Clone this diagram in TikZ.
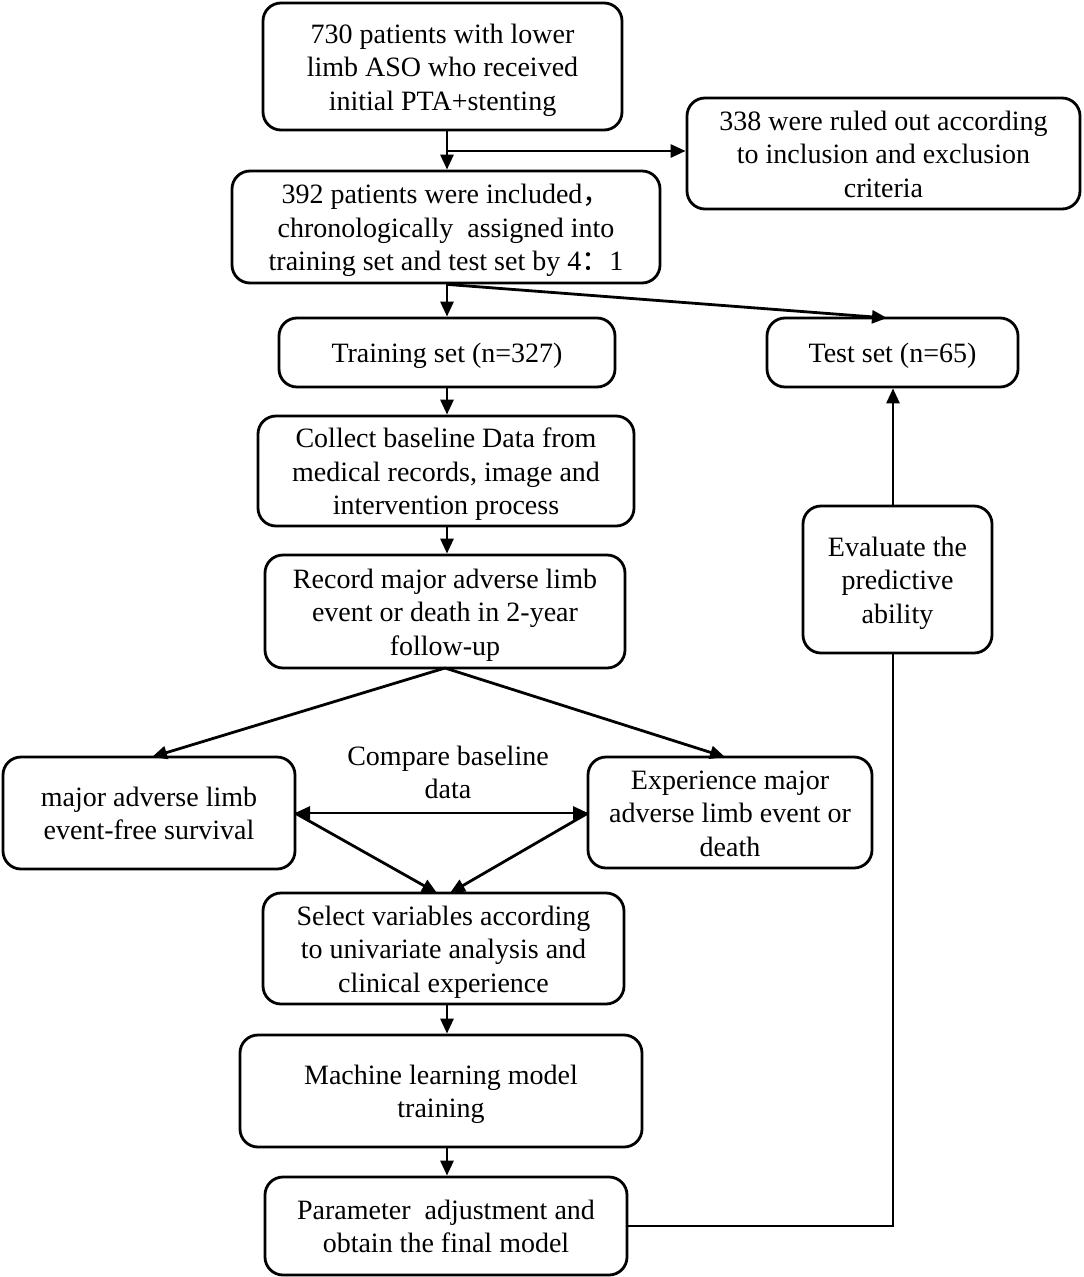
\documentclass[tikz,border=0pt]{standalone}
\usepackage{fontspec}
\setmainfont{Liberation Serif}
\newfontfamily\cjk{Noto Sans CJK SC}
\usetikzlibrary{arrows.meta,calc}
\newcommand{\sL}{\rule[-6.7pt]{0pt}{33.5pt}}
\begin{document}
\begin{tikzpicture}[x=1pt,y=-1pt,
  box/.style={draw,line width=2.8pt,rounded corners=18pt,align=center,inner sep=0pt,
    font=\fontsize{28}{33.5}\selectfont},
  lbl/.style={align=center,inner sep=0pt,font=\fontsize{28}{33.5}\selectfont},
  conn/.style={line width=2.8pt,-{Triangle[length=15pt,width=13pt]}},
  dconn/.style={line width=2.8pt,{Triangle[length=15pt,width=13pt]}-{Triangle[length=15pt,width=13pt]}},
  plain/.style={line width=2.8pt}]
\useasboundingbox (0,0) rectangle (1084,1277);
\newcommand{\bx}[6]{\node[box,minimum width={#4-#2},minimum height={#5-#3}] (#1) at ({(#2+#4)/2},{(#3+#5)/2}) {#6};}
\bx{b1}{263}{3}{622}{130}{\sL 730 patients with lower\\\sL limb ASO who received\\\sL initial PTA+stenting}
\bx{b2}{687}{98}{1080}{209}{\sL 338 were ruled out according\\\sL to inclusion and exclusion\\\sL criteria}
\bx{b3}{232}{171}{660}{283}{\sL 392 patients were included{\cjk ，}\\\sL chronologically\ \ assigned into\\\sL training set and test set by 4{\cjk ：}1}
\bx{tr}{279}{318}{615}{387}{\sL Training set (n=327)}
\bx{te}{767}{318}{1018}{387}{\sL Test set (n=65)}
\bx{co}{258}{416}{634}{526}{\sL Collect baseline Data from\\\sL medical records, image and\\\sL intervention process}
\bx{re}{265}{555}{625}{668}{\sL Record major adverse limb\\\sL event or death in 2-year\\\sL follow-up}
\bx{ev}{803}{506}{992}{653}{\sL Evaluate the\\\sL predictive\\\sL ability}
\bx{le}{3}{757}{295}{869}{\sL major adverse limb\\\sL event-free survival}
\bx{ri}{588}{757}{872}{868}{\sL Experience major\\\sL adverse limb event or\\\sL death}
\bx{se}{263}{893}{624}{1004}{\sL Select variables according\\\sL to univariate analysis and\\\sL clinical experience}
\bx{ma}{240}{1035}{642}{1147}{\sL Machine learning model\\\sL training}
\bx{pa}{265}{1177}{627}{1275}{\sL Parameter\ \ adjustment and\\\sL obtain the final model}
\node[lbl] (cmp) at (448,771.7) {\sL Compare baseline\\\sL data};
% connectors
\coordinate (x1) at (447,0);
\draw[conn] (b1.south -| x1) -- (b3.north -| x1);
\coordinate (j1) at (447,151);
\draw[conn] (j1) -- (j1 -| b2.west);
\coordinate (s3) at (b3.south -| x1);
\draw[conn] (s3) -- (tr.north -| x1);
\coordinate (tt) at (887,318);
\draw[conn] (s3) -- (tt);
\draw[conn] (tr.south -| x1) -- (co.north -| x1);
\draw[conn] (co.south -| x1) -- (re.north -| x1);
\coordinate (rb) at (445,668);
\coordinate (lt) at (152,757);
\coordinate (rt) at (725,757);
\draw[conn] (rb) -- (lt);
\draw[conn] (rb) -- (rt);
\coordinate (lm) at (295,813);
\coordinate (rm) at (588,813);
\draw[dconn] (lm) -- (rm);
\coordinate (st1) at (437,893);
\coordinate (st2) at (450,893);
\draw[conn] (lm) -- (st1);
\draw[conn] (rm) -- (st2);
\draw[conn] (se.south -| x1) -- (ma.north -| x1);
\draw[conn] (ma.south -| x1) -- (pa.north -| x1);
\coordinate (x2) at (893,0);
\draw[plain] (pa.east) -| (ev.south -| x2);
\draw[conn] (ev.north -| x2) -- (te.south -| x2);
\end{tikzpicture}
\end{document}
